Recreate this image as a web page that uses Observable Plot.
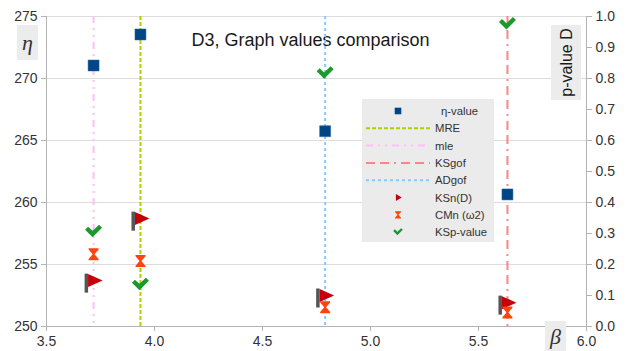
<!DOCTYPE html>
<html>
<head>
<meta charset="utf-8">
<script src="https://cdn.jsdelivr.net/npm/d3@7"></script>
<script src="https://cdn.jsdelivr.net/npm/@observablehq/plot@0.6"></script>
<style>
  html, body { margin: 0; padding: 0; background: #fff; }
  #chart { width: 627px; height: 351px; }
</style>
</head>
<body>
<div id="chart"></div>
<script>
// Estimation methods and their estimates
const methods = ["mle", "MRE", "ADgof", "KSgof"];
const beta = [3.718, 3.935, 4.790, 5.634];
const eta = [271.05, 273.55, 265.75, 260.65];

// Goodness-of-fit statistics (right axis, 0..1)
const ksnD = [0.148, 0.348, 0.100, 0.077];
const cmnW2 = [0.233, 0.211, 0.062, 0.045];
const ksPValue = [0.306, 0.135, 0.817, 0.976];

// Axis ticks
const xTicks = [3.5, 4.0, 4.5, 5.0, 5.5, 6.0];
const etaTicks = [250, 255, 260, 265, 270, 275];
const pTicks = [0, 0.1, 0.2, 0.3, 0.4, 0.5, 0.6, 0.7, 0.8, 0.9, 1.0];

const title = "D3, Graph values comparison";
const legendLabels = ["η-value", "MRE", "mle", "KSgof", "ADgof", "KSn(D)", "CMn (ω2)", "KSp-value"];

const etaMin = 250, etaMax = 275;
const pToEta = p => etaMin + (etaMax - etaMin) * p;

const rows = methods.map((m, i) => ({
  method: m, beta: beta[i], eta: eta[i],
  ksn: ksnD[i], cmn: cmnW2[i], ksp: ksPValue[i]
}));

// Method line styles
const lineStyle = {
  MRE:   {stroke: "#aecf00", dash: "4,2"},
  mle:   {stroke: "#ffbff5", dash: "7,5,2,5,2,5"},
  KSgof: {stroke: "#ff8484", dash: "9,5,9,5,2,5"},
  ADgof: {stroke: "#83caff", dash: "3,3"}
};

// Polygon-based custom symbols; coordinates are in pixels for r = 6
function polySymbol(points) {
  return {
    draw(ctx, size) {
      const k = Math.sqrt(size / Math.PI) / 6;
      ctx.moveTo(points[0][0] * k, points[0][1] * k);
      for (let j = 1; j < points.length; ++j) ctx.lineTo(points[j][0] * k, points[j][1] * k);
      ctx.closePath();
    }
  };
}
const squareSym = polySymbol([[-5.5, -5.5], [5.5, -5.5], [5.5, 5.5], [-5.5, 5.5]]);
const poleSym = polySymbol([[-9, -7], [-5.5, -7], [-5.5, 12], [-9, 12]]);
const pennantSym = polySymbol([[-5.5, -6.5], [9, 0], [-5.5, 6.5]]);
const pennantOnlySym = polySymbol([[-4, -6.5], [7, 0], [-4, 6.5]]);
const hourglassSym = polySymbol([[-5, -6], [5, -6], [5, -4.8], [0.9, 0], [5, 4.8], [5, 6], [-5, 6], [-5, 4.8], [-0.9, 0], [-5, -4.8]]);
const checkSym = polySymbol([[-8.5, -2], [-5.5, -5], [-1, -0.8], [5.5, -7], [8.5, -4], [-1, 5.5]]);

const colors = {
  square: "#004586", pole: "#555555", flag: "#c5000b",
  hourglass: "#ff420e", check: "#1a9a2c",
  grid: "#dcdcdc", axis: "#b3b3b3", text: "#333333"
};

const lineMarks = methods.map(m =>
  Plot.ruleX(rows.filter(d => d.method === m), {
    x: "beta", stroke: lineStyle[m].stroke, strokeWidth: 2,
    strokeDasharray: lineStyle[m].dash
  })
);

const plot = Plot.plot({
  width: 627,
  height: 351,
  marginLeft: 46,
  marginRight: 41,
  marginTop: 16,
  marginBottom: 25,
  style: {fontFamily: "'Liberation Sans', Arial, sans-serif", fontSize: "14px", background: "#fff", color: colors.text},
  x: {domain: [3.5, 6.0]},
  y: {domain: [etaMin, etaMax]},
  marks: [
    Plot.gridY(etaTicks, {stroke: colors.grid, strokeOpacity: 1}),
    Plot.ruleX([3.5, 6.0], {stroke: colors.axis}),
    Plot.ruleY([etaMin], {stroke: colors.axis}),
    Plot.axisY(etaTicks, {anchor: "left", tickSize: 5, tickPadding: 4, stroke: colors.axis, fill: colors.text, label: null, tickFormat: d => String(d)}),
    Plot.axisY(pTicks.map(pToEta), {anchor: "right", tickSize: 5, tickPadding: 4, stroke: colors.axis, fill: colors.text, label: null, tickFormat: d => ((d - etaMin) / (etaMax - etaMin)).toFixed(1)}),
    Plot.axisX(xTicks, {anchor: "bottom", tickSize: 5, tickPadding: 5, stroke: colors.axis, fill: colors.text, label: null, tickFormat: d => d.toFixed(1)}),
    Plot.text([title], {frameAnchor: "top", dx: -6, dy: 24, lineAnchor: "middle", fontSize: 18, fill: "#1a1a1a"}),
    ...lineMarks,
    Plot.dot(rows, {x: "beta", y: "eta", symbol: squareSym, r: 6, fill: colors.square, stroke: "#2a6aa8", strokeWidth: 0.5}),
    Plot.dot(rows, {x: "beta", y: d => pToEta(d.ksn), symbol: poleSym, r: 6, fill: colors.pole, stroke: "none"}),
    Plot.dot(rows, {x: "beta", y: d => pToEta(d.ksn), symbol: pennantSym, r: 6, fill: colors.flag, stroke: "none"}),
    Plot.dot(rows, {x: "beta", y: d => pToEta(d.cmn), symbol: hourglassSym, r: 6, fill: colors.hourglass, stroke: "none"}),
    Plot.dot(rows, {x: "beta", y: d => pToEta(d.ksp), symbol: checkSym, r: 6, fill: colors.check, stroke: "none"})
  ]
});

document.getElementById("chart").appendChild(plot);

// Axis title boxes and legend
const svg = d3.select(plot);
const font = "'Liberation Sans', Arial, sans-serif";

function labelBox(x, y, w, h) {
  svg.append("rect").attr("x", x).attr("y", y).attr("width", w).attr("height", h).attr("fill", "#ececec");
}
labelBox(17, 25, 21, 35);
svg.append("text").attr("x", 27.5).attr("y", 50).attr("text-anchor", "middle")
  .attr("font-family", "'Liberation Serif', 'DejaVu Serif', serif").attr("font-style", "italic")
  .attr("font-size", 22).attr("fill", "#333").text("η");

labelBox(551, 25, 30, 75);
svg.append("text").attr("transform", "translate(572,62.5) rotate(-90)").attr("text-anchor", "middle")
  .attr("font-family", font).attr("font-size", 16).attr("fill", "#1a1a1a").text("p-value D");

labelBox(545, 321, 21, 30);
svg.append("text").attr("x", 555.5).attr("y", 344).attr("text-anchor", "middle")
  .attr("font-family", "'Liberation Serif', 'DejaVu Serif', serif").attr("font-style", "italic")
  .attr("font-size", 22).attr("fill", "#333").text("β");

const legend = svg.append("g");
legend.append("rect").attr("x", 362).attr("y", 99).attr("width", 132).attr("height", 143).attr("fill", "#ebebeb");
const rowY = i => 111 + i * 17.3;
const symCx = 398;
const legendSymbol = (sym, r, fill, i) =>
  legend.append("path").attr("transform", `translate(${symCx},${rowY(i)})`)
    .attr("d", d3.symbol(sym, r * r * Math.PI)()).attr("fill", fill);

legendSymbol(squareSym, 3.6, colors.square, 0);
["MRE", "mle", "KSgof", "ADgof"].forEach((m, j) => {
  legend.append("line").attr("x1", 366).attr("x2", 430).attr("y1", rowY(j + 1)).attr("y2", rowY(j + 1))
    .attr("stroke", lineStyle[m].stroke).attr("stroke-width", 2).attr("stroke-dasharray", lineStyle[m].dash);
});
legendSymbol(pennantOnlySym, 3.2, colors.flag, 5);
legendSymbol(hourglassSym, 3.6, colors.hourglass, 6);
legendSymbol(checkSym, 3.4, colors.check, 7);

legendLabels.forEach((t, i) => {
  legend.append("text").attr("x", i === 0 ? 441 : 435).attr("y", rowY(i) + 4)
    .attr("text-anchor", "start")
    .attr("font-family", font).attr("font-size", 11.3).attr("fill", "#333").text(t);
});
</script>
</body>
</html>
